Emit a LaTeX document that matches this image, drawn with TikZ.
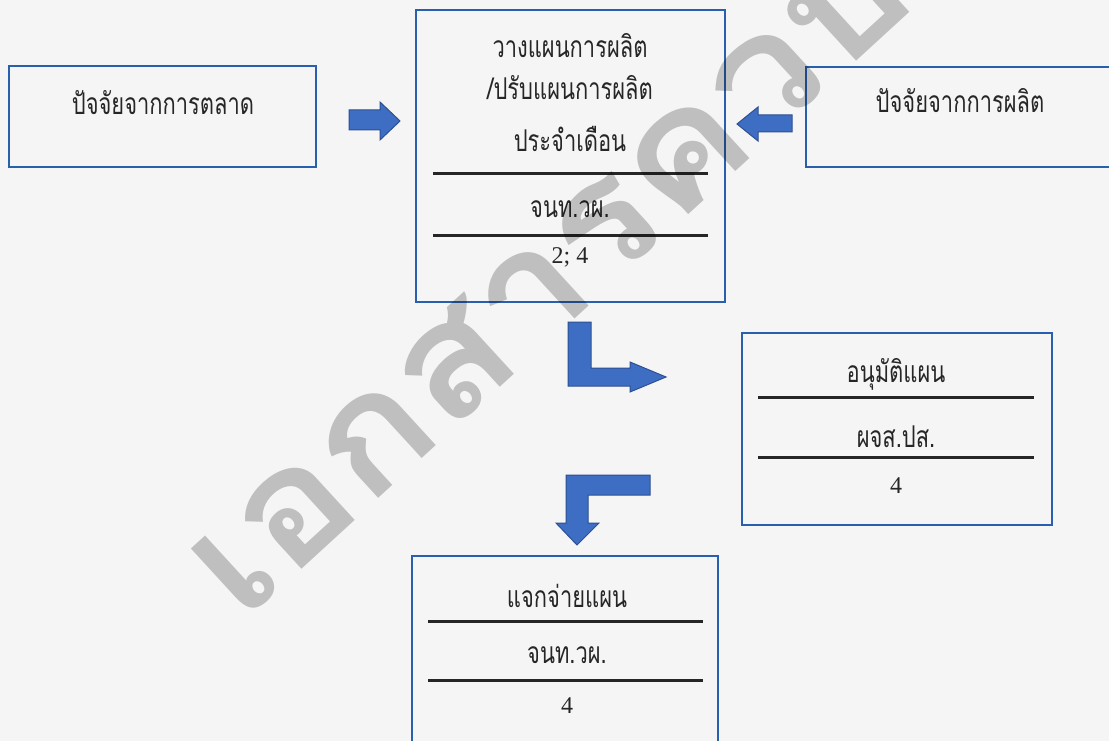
\documentclass[tikz,border=0pt]{standalone}
\usepackage{fontspec}
\setmainfont{Liberation Serif}
\newfontfamily\thai[Script=Thai,FakeStretch=0.73]{Loma}
\newfontfamily\wmfont[Script=Thai,FakeStretch=1.12]{Loma}
\definecolor{boxblue}{RGB}{40,95,175}
\definecolor{arrfill}{RGB}{62,110,195}
\definecolor{arrline}{RGB}{45,80,145}
\definecolor{paper}{RGB}{245,245,245}
\tikzset{
  flowbox/.style={draw=boxblue, line width=2pt, inner sep=0pt},
  thaitxt/.style={anchor=base, inner sep=0pt, font=\thai\fontsize{30}{30}\selectfont, text=black!85},
  numtxt/.style={anchor=base, inner sep=0pt, font=\fontsize{24}{24}\selectfont, text=black!85},
  sepline/.style={draw=black!85, line width=3pt},
  blockarrow/.style={fill=arrfill, draw=arrline, line width=1pt, line join=miter},
}
\begin{document}
\begin{tikzpicture}[x=1pt,y=-1pt]
\useasboundingbox (0,0) rectangle (1109,741);
\fill[paper] (0,0) rectangle (1109,741);
\clip (0,0) rectangle (1109,741);

% boxes
\node[flowbox, minimum width=307pt, minimum height=101pt] (mkt) at (162.5,116.5) {};
\node[flowbox, minimum width=309pt, minimum height=292pt] (plan) at (570.5,156) {};
\node[flowbox, minimum width=308pt, minimum height=100pt] (prod) at (960,117) {};
\node[flowbox, minimum width=310pt, minimum height=192pt] (appr) at (897,429) {};
\node[flowbox, minimum width=306pt, minimum height=194pt] (dist) at (565,653) {};

% separator lines
\coordinate (p1l) at (433,174); \coordinate (p1r) at (708,174);
\coordinate (p2l) at (433,235); \coordinate (p2r) at (708,235);
\coordinate (a1l) at (758,397); \coordinate (a1r) at (1034,397);
\coordinate (a2l) at (758,457); \coordinate (a2r) at (1034,457);
\coordinate (d1l) at (428,621); \coordinate (d1r) at (703,621);
\coordinate (d2l) at (428,680); \coordinate (d2r) at (703,680);
\draw[sepline] (p1l) -- (p1r);
\draw[sepline] (p2l) -- (p2r);
\draw[sepline] (a1l) -- (a1r);
\draw[sepline] (a2l) -- (a2r);
\draw[sepline] (d1l) -- (d1r);
\draw[sepline] (d2l) -- (d2r);

% texts
\node[thaitxt] (mktt) at (163,115) {ปัจจัยจากการตลาด};
\node[thaitxt] (prodt) at (960,113) {ปัจจัยจากการผลิต};
\node[thaitxt] (plant1) at (570,58) {วางแผนการผลิต};
\node[thaitxt] (plant2) at (570,100) {/ปรับแผนการผลิต};
\node[thaitxt] (plant3) at (570,152) {ประจำเดือน};
\node[thaitxt] (plant4) at (570,217) {จนท.วผ.};
\node[numtxt] (plant5) at (570,263) {2; 4};
\node[thaitxt] (apprt1) at (896,382) {อนุมัติแผน};
\node[thaitxt] (apprt2) at (896,447) {ผจส.ปส.};
\node[numtxt] (apprt3) at (896,493) {4};
\node[thaitxt] (distt1) at (567,607) {แจกจ่ายแผน};
\node[thaitxt] (distt2) at (567,663) {จนท.วผ.};
\node[numtxt] (distt3) at (567,713) {4};

% block arrows
\draw[blockarrow] (349,110) -- (380,110) -- (380,102) -- (400,121) -- (380,140) -- (380,130) -- (349,130) -- cycle;
\draw[blockarrow] (792,115) -- (758,115) -- (758,107) -- (737,124) -- (758,141) -- (758,132) -- (792,132) -- cycle;
\draw[blockarrow] (568,322) -- (591,322) -- (591,368) -- (630,368) -- (630,362) -- (666,377) -- (630,392) -- (630,386) -- (568,386) -- cycle;
\draw[blockarrow] (650,475) -- (650,495) -- (588,495) -- (588,523) -- (599,523) -- (577,545) -- (556,523) -- (566,523) -- (566,475) -- cycle;

% watermark
\node[rotate=42.5, anchor=base west, inner sep=0pt, font=\wmfont\bfseries\fontsize{160}{160}\selectfont, text=black, opacity=0.22] (wm) at (242,624) {เอกสารควบคุม};
\end{tikzpicture}
\end{document}
